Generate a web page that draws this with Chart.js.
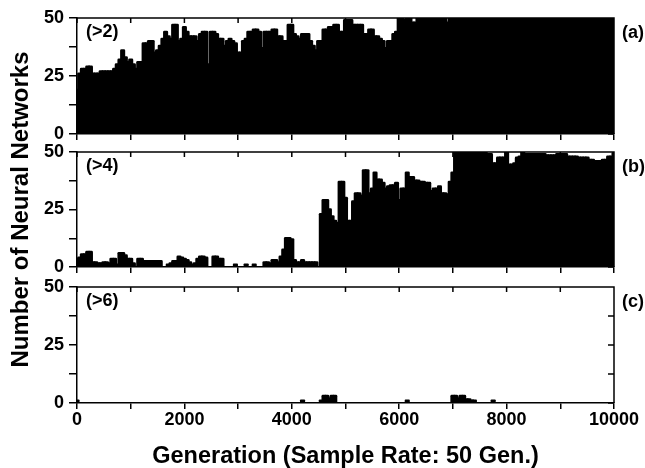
<!DOCTYPE html>
<html><head><meta charset="utf-8">
<script src="https://cdn.jsdelivr.net/npm/chart.js@4/dist/chart.umd.min.js"></script>
<style>
html,body{margin:0;padding:0;background:#fff;}
#wrap{position:relative;width:645px;height:468px;overflow:hidden;}
.pane{position:absolute;left:0;top:0;width:645px;height:468px;}
</style></head><body>
<div id="wrap">
<canvas class="pane" id="ca" width="645" height="468"></canvas>
<canvas class="pane" id="cb" width="645" height="468"></canvas>
<canvas class="pane" id="cc" width="645" height="468"></canvas>
</div>
<script>
// Sampling: one value every 50 generations, 0..10000
const sampleRate = 50;
const generations = Array.from({length: 201}, (_, i) => i * sampleRate);

// Number of networks with more than 2 hidden units
const countAbove2 = [
 19,26,28,28,29,29,26,26,26,27,
 27,27,27,27,28,30,32,36,33,31,
 32,30,28,31,31,39,39,40,40,35,
 36,38,41,44,42,41,47,47,40,41,
 46,44,42,42,42,40,43,44,44,30,
 44,44,43,41,41,38,40,41,40,39,
 35,35,40,41,44,44,45,45,44,37,
 44,44,44,45,45,42,42,40,40,47,
 47,43,42,41,43,43,43,40,38,36,
 40,40,45,45,46,46,47,47,44,44,
 49,49,49,47,47,47,47,43,43,45,
 45,42,42,41,40,37,40,40,43,44,
 50,50,49,50,50,48,48,50,50,50,
 50,50,50,50,50,50,50,50,48,50,
 50,50,50,50,50,50,50,50,50,50,
 50,50,50,50,50,50,50,50,50,50,
 50,50,50,50,50,50,50,50,50,50,
 50,50,50,50,50,50,50,50,50,50,
 50,50,50,50,50,50,50,50,50,50,
 50,50,50,50,50,50,50,50,50,50,
 50
];

// Number of networks with more than 4 hidden units
const countAbove4 = [
 3.5,4,5.5,5.5,6.5,6.5,2,2,1.5,1.5,
 2,2,1.5,3.5,3.5,1,6,6,5,3.5,
 3.5,1.5,0,3.5,3.5,2.5,2.5,2.5,2.5,2.5,
 2.5,2.5,0,0,1,1.5,2.5,2.5,4.5,4,
 3.5,3,2,1,1.5,3.5,4.5,4.5,4,0,
 0,4.5,4.5,3.5,3.5,0,0,0,0,1,
 0,0,0,1,0,0,1,0,0,0,
 2,2,1.5,3,3,2,4.5,7.5,12.5,12.5,
 12,3,2,2,3,2,2,2,2,2,
 0,23,29,29,25,22,20,19,37,37,
 30,20,20,28.5,32,32,31,42,42,32,
 34,41,38,38,36.5,34,35,35.5,35.5,36.5,
 29,34,34,41,39,39,37.5,37.5,37,37,
 36.5,36.5,33,34,34,35,32,32,31.5,37,
 41,50,50,50,50,50,50,50,50,50,
 50,50,50,49,49,45,45,47.5,47.5,47.5,
 50,44.5,44.5,45,47.5,48,50,49,49,49,
 49,49,49,49,49,48.5,48.5,48.5,48.5,49,
 49,49,49,48,48,48,48,47.5,47.5,47.5,
 47.5,46.5,46.5,46,46,46,46.5,46.5,48,48,
 49.5
];

// Number of networks with more than 6 hidden units
const countAbove6 = [
 1,0,0,0,0,0,0,0,0,0,
 0,0,0,0,0,0,0,0,0,0,
 0,0,0,0,0,0,0,0,0,0,
 0,0,0,0,0,0,0,0,0,0,
 0,0,0,0,0,0,0,0,0,0,
 0,0,0,0,0,0,0,0,0,0,
 0,0,0,0,0,0,0,0,0,0,
 0,0,0,0,0,0,0,0,0,0,
 0,0,0,0,1,0,0,0,0,0,
 0,1,3,3,2,3,3,0,0,0,
 0,0,0,0,0,0,0,0,0,0,
 0,0,0,0,0,0,0,0,0,0,
 0,0,0,1,0,0,0,0,0,0,
 0,0,0,0,0,0,0,0,0,0,
 3,3,2,3,3,1.5,1.5,1,1,0,
 0,0,0,0,0,1,0,0,0,0,
 0,0,0,0,0,0,0,0,0,0,
 0,0,0,0,0,0,0,0,0,0,
 0,0,0,0,0,0,0,0,0,0,
 0,0,0,0,0,0,0,0,0,0,
 0
];

const yTickLabels = [0, 25, 50];
const xTickLabels = [0, 2000, 4000, 6000, 8000, 10000];
const panelTags = ['(>2)', '(>4)', '(>6)'];
const panelLetters = ['(a)', '(b)', '(c)'];
const yTitle = 'Number of Neural Networks';
const xTitle = 'Generation (Sample Rate: 50 Gen.)';

const FONT = '"Liberation Sans", Arial, Helvetica, sans-serif';
const W = 645, H = 468;
const PLOT_LEFT = 77, PLOT_RIGHT = 614;

function framePlugin(tag, letter) {
  return {
    id: 'frame',
    afterDraw(chart) {
      const {ctx, chartArea: a, scales: {x, y}} = chart;
      ctx.save();
      ctx.strokeStyle = '#000';
      ctx.lineWidth = 1.5;
      ctx.beginPath();
      ctx.moveTo(a.left, a.top);
      ctx.lineTo(a.right, a.top);
      ctx.lineTo(a.right, a.bottom);
      x.ticks.forEach(t => {
        const px = x.getPixelForValue(t.value);
        ctx.moveTo(px, a.top);
        ctx.lineTo(px, a.top + 5);
      });
      y.ticks.forEach(t => {
        const py = y.getPixelForValue(t.value);
        ctx.moveTo(a.right, py);
        ctx.lineTo(a.right - 6, py);
      });
      ctx.stroke();
      ctx.fillStyle = '#000';
      ctx.textBaseline = 'middle';
      ctx.textAlign = 'left';
      ctx.font = 'bold 18px ' + FONT;
      ctx.fillText(tag, a.left + 9, a.top + 14);
      ctx.fillText(letter, a.right + 8, a.top + 15);
      ctx.restore();
    }
  };
}

function makePanel(id, values, idx, top, bottom, showX, showYTitle) {
  const pts = values.map((v, i) => ({x: generations[i], y: v > 0 ? v : null}));
  return new Chart(document.getElementById(id), {
    type: 'bar',
    data: {
      datasets: [{
        data: pts,
        backgroundColor: '#000',
        borderWidth: 0,
        barPercentage: 1,
        categoryPercentage: 1,
        inflateAmount: 1.2,
        borderRadius: {topLeft: 2.5, topRight: 2.5, bottomLeft: 0, bottomRight: 0},
        borderSkipped: 'bottom'
      }]
    },
    options: {
      responsive: false,
      animation: false,
      events: [],
      layout: {padding: {left: 0, right: W - PLOT_RIGHT, top: top, bottom: 0}},
      plugins: {legend: {display: false}, tooltip: {enabled: false}},
      scales: {
        x: {
          type: 'linear',
          offset: false,
          min: 0, max: 10000,
          afterFit: s => { s.height = H - bottom; },
          grid: {offset: false, drawOnChartArea: false, drawTicks: true, tickLength: 6, color: '#000', lineWidth: 1.5},
          border: {display: true, color: '#000', width: 1.5},
          ticks: {
            display: showX,
            stepSize: 1000,
            autoSkip: false,
            maxRotation: 0,
            padding: 0,
            color: '#000',
            font: {family: FONT, size: 18, weight: 'bold'},
            callback: v => xTickLabels.includes(v) ? String(v) : ''
          },
          title: {
            display: showX,
            text: xTitle,
            color: '#000',
            font: {family: FONT, size: 23.5, weight: 'bold', lineHeight: 1.0},
            padding: {top: 0, bottom: 0}
          }
        },
        y: {
          min: 0, max: 50,
          afterFit: s => { s.width = PLOT_LEFT; },
          grid: {drawOnChartArea: false, drawTicks: true, tickLength: 8, color: '#000', lineWidth: 1.5},
          border: {display: true, color: '#000', width: 1.5},
          ticks: {
            stepSize: 12.5,
            padding: 5,
            color: '#000',
            font: {family: FONT, size: 18, weight: 'bold'},
            callback: v => yTickLabels.includes(v) ? String(v) : ''
          },
          title: {
            display: showYTitle,
            text: yTitle,
            color: '#000',
            font: {family: FONT, size: 24, weight: 'bold'},
            padding: {top: 7, bottom: 0}
          }
        }
      }
    },
    plugins: [framePlugin(panelTags[idx], panelLetters[idx])]
  });
}

makePanel('ca', countAbove2, 0, 18, 134, false, false);
makePanel('cb', countAbove4, 1, 152, 267, false, true);
makePanel('cc', countAbove6, 2, 287, 403, true, false);
</script>
</body></html>
